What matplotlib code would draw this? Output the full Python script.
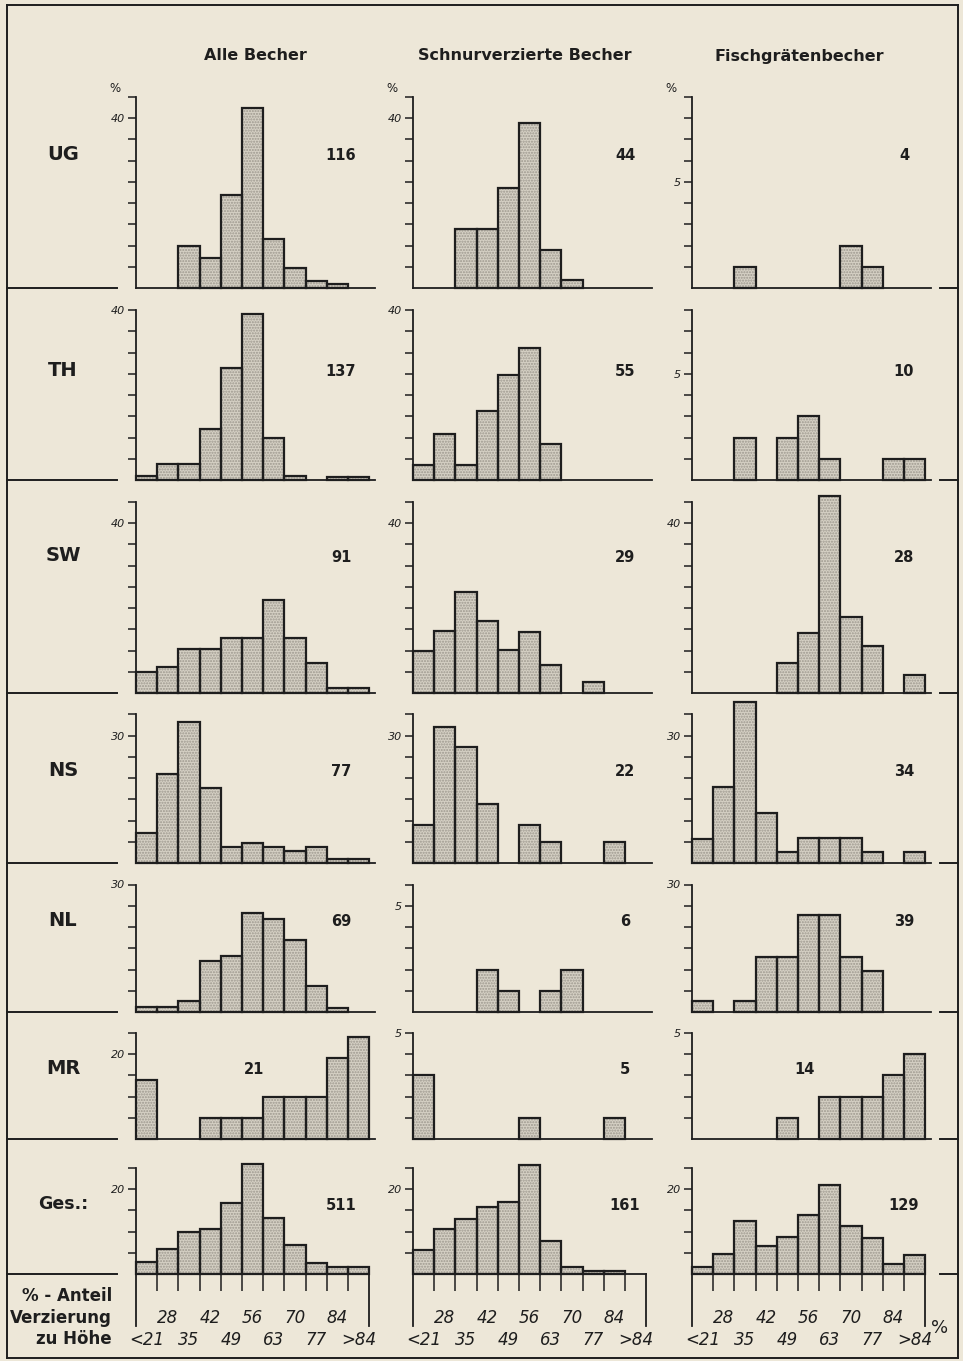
import numpy as np
import matplotlib.pyplot as plt
from matplotlib.lines import Line2D

# bins of "Verzierung zu Hoehe" (%), 11 classes
bin_labels = ["<21", "28", "35", "42", "49", "56", "63", "70", "77", "84", ">84"]
columns = ["Alle Becher", "Schnurverzierte Becher", "Fischgrätenbecher"]
rows = ["UG", "TH", "SW", "NS", "NL", "MR", "Ges.:"]

# values per panel: percent, or number of vessels where the axis is labelled "5"
ug_alle = [0, 0, 9.8, 7.0, 21.9, 42.3, 11.5, 4.7, 1.6, 0.9, 0]
ug_schnur = [0, 0, 14.0, 14.0, 23.5, 38.8, 9.0, 1.8, 0, 0, 0]
ug_fisch = [0, 0, 1, 0, 0, 0, 0, 2, 1, 0, 0]
th_alle = [1.0, 3.8, 3.8, 12.0, 26.3, 39.0, 9.9, 0.9, 0, 0.8, 0.8]
th_schnur = [3.6, 10.8, 3.6, 16.3, 24.8, 31.1, 8.4, 0, 0, 0, 0]
th_fisch = [0, 0, 2, 0, 2, 3, 1, 0, 0, 1, 1]
sw_alle = [4.9, 6.1, 10.3, 10.3, 13.0, 13.0, 22.0, 13.0, 7.1, 1.2, 1.2]
sw_schnur = [9.9, 14.7, 23.7, 16.9, 10.1, 14.4, 6.6, 0, 2.5, 0, 0]
sw_fisch = [0, 0, 0, 0, 7.1, 14.2, 46.3, 18.0, 11.1, 0, 4.3]
ns_alle = [7.1, 21.0, 33.1, 17.7, 3.8, 4.8, 3.8, 2.8, 3.8, 0.9, 0.9]
ns_schnur = [8.9, 32.0, 27.4, 13.8, 0, 9.0, 4.9, 0, 0, 4.9, 0]
ns_fisch = [5.6, 17.8, 37.9, 11.7, 2.7, 5.9, 5.9, 5.9, 2.7, 0, 2.7]
nl_alle = [1.2, 1.2, 2.7, 11.9, 13.2, 23.2, 21.9, 17.0, 6.1, 1.0, 0]
nl_schnur = [0, 0, 0, 2, 1, 0, 1, 2, 0, 0, 0]
nl_fisch = [2.7, 0, 2.6, 12.9, 12.9, 22.9, 22.9, 12.9, 9.6, 0, 0]
mr_alle = [13.8, 0, 0, 4.9, 4.9, 4.9, 9.8, 9.8, 9.8, 19.0, 24.0]
mr_schnur = [3, 0, 0, 0, 0, 1, 0, 0, 0, 1, 0]
mr_fisch = [0, 0, 0, 0, 1, 0, 2, 2, 2, 3, 4]
ges_alle = [2.9, 5.9, 9.9, 10.7, 16.7, 26.0, 13.2, 6.8, 2.6, 1.6, 1.6]
ges_schnur = [5.7, 10.7, 13.0, 15.7, 17.0, 25.7, 7.8, 1.7, 0.8, 0.8, 0]
ges_fisch = [1.7, 4.7, 12.5, 6.5, 8.7, 14.0, 21.0, 11.3, 8.4, 2.3, 4.4]

values = [
    [ug_alle, ug_schnur, ug_fisch],
    [th_alle, th_schnur, th_fisch],
    [sw_alle, sw_schnur, sw_fisch],
    [ns_alle, ns_schnur, ns_fisch],
    [nl_alle, nl_schnur, nl_fisch],
    [mr_alle, mr_schnur, mr_fisch],
    [ges_alle, ges_schnur, ges_fisch],
]
totals = [[116, 44, 4], [137, 55, 10], [91, 29, 28], [77, 22, 34],
          [69, 6, 39], [21, 5, 14], [511, 161, 129]]
# top of each y axis and the one labelled tick
ymax = [[45, 45, 9], [40, 40, 8], [45, 45, 45], [35, 35, 35],
        [30, 6, 30], [25, 5, 5], [25, 25, 25]]
ylab = [[40, 40, 5], [40, 40, 5], [40, 40, 40], [30, 30, 30],
        [30, 5, 30], [20, 5, 5], [20, 20, 20]]

# ---- layout in pixels (image 963 x 1361)
W, H = 963, 1361
bg = "#ede7d8"
ink = "#1e1e1e"
spine_x = [136, 413, 692]
baseline = [288, 480, 693, 863, 1012, 1139, 1274]
px_tick = 21.25          # one tick = 5 % or one vessel
label_y = [154, 370, 556, 771, 920, 1069, 1204]
bin_px = 21.2

fig = plt.figure(figsize=(W / 100, H / 100), dpi=100, facecolor=bg)


def fx(x):
    return x / W


def fy(y):
    return 1 - y / H


def fline(x0, y0, x1, y1, lw=1.4):
    fig.add_artist(Line2D([fx(x0), fx(x1)], [fy(y0), fy(y1)], color=ink, lw=lw))


# frame
fline(7, 5, 958, 5)
fline(7, 5, 7, 1358)
fline(958, 5, 958, 1358)
fline(7, 1358, 958, 1358)
for b in baseline:
    fline(7, b, 117, b)
    fline(940, b, 958, b)

# column titles
title_x = [255, 525, 799]
for c, name in enumerate(columns):
    fig.text(fx(title_x[c]), fy(56), name, ha="center", va="center",
             fontsize=11.5, fontweight="bold", color=ink, family="DejaVu Sans")
    fig.text(fx(spine_x[c] - 21), fy(88), "%", ha="center", va="center",
             fontsize=8.5, color=ink)

x = np.arange(11)
for r in range(len(rows)):
    last = r == len(rows) - 1
    fs = 12.5 if last else 14
    fig.text(fx(63), fy(label_y[r]), rows[r], ha="center", va="center",
             fontsize=fs, fontweight="bold", color=ink)
    for c in range(3):
        vals = np.array(values[r][c], dtype=float)
        step = 5 if ymax[r][c] > 9 else 1
        ppu = px_tick / step
        nb = 11.0 if last else 11.25
        ax = fig.add_axes([fx(spine_x[c]), fy(baseline[r]),
                           nb * bin_px / W, ymax[r][c] * ppu / H])
        ax.set_facecolor("none")
        ax.set_xlim(0, nb)
        ax.set_ylim(0, ymax[r][c])
        m = vals > 0
        ax.bar(x[m], vals[m], width=1, align="edge", color="#d5d0c4",
               hatch="......", edgecolor="#9d988e", linewidth=0, clip_on=False)
        ax.bar(x[m], vals[m], width=1, align="edge", facecolor="none",
               edgecolor=ink, linewidth=1.6, clip_on=False)
        for s in ["top", "right"]:
            ax.spines[s].set_visible(False)
        for s in ["left", "bottom"]:
            ax.spines[s].set_color(ink)
            ax.spines[s].set_linewidth(1.3)
        yt = np.arange(step, ymax[r][c] + step / 2, step)
        ax.set_yticks(yt)
        ax.set_yticklabels([str(ylab[r][c]) if t == ylab[r][c] else "" for t in yt],
                           fontsize=8, fontstyle="italic", color=ink)
        ax.tick_params(axis="y", direction="out", length=6, width=1.1, color=ink, pad=2)
        if last:
            ax.set_xticks(np.arange(1, 11))
            ax.set_xticklabels([])
            ax.tick_params(axis="x", direction="out", length=12, width=1.1, color=ink)
            ah = ymax[r][c] * ppu
            for e in [0, 11]:
                ax.plot([e, e], [0, -52 / ppu], color=ink, lw=1.3, clip_on=False)
            for i, lab in enumerate(bin_labels):
                yy = -44 if i % 2 == 1 else -66
                ax.text(i + 0.5, yy / ah, lab, transform=ax.get_xaxis_transform(),
                        ha="center", va="center", fontsize=12, fontstyle="italic",
                        color=ink)
        else:
            ax.set_xticks([])
        # number of vessels
        dx = 205 if c == 0 else 212
        if rows[r] == "MR" and c != 1:
            dx = 118 if c == 0 else 113
        fig.text(fx(spine_x[c] + dx), fy(label_y[r] + 1), str(totals[r][c]),
                 ha="center", va="center", fontsize=10.5, fontweight="bold",
                 color=ink)

# axis caption bottom left
for txt, yy in [("% - Anteil", 1296), ("Verzierung", 1318), ("zu Höhe", 1339)]:
    fig.text(fx(112), fy(yy), txt, ha="right", va="center", fontsize=12,
             fontweight="bold", color=ink)
fig.text(fx(940), fy(1328), "%", ha="center", va="center", fontsize=13, color=ink)

fig.savefig("out.png", dpi=100, facecolor=bg)
